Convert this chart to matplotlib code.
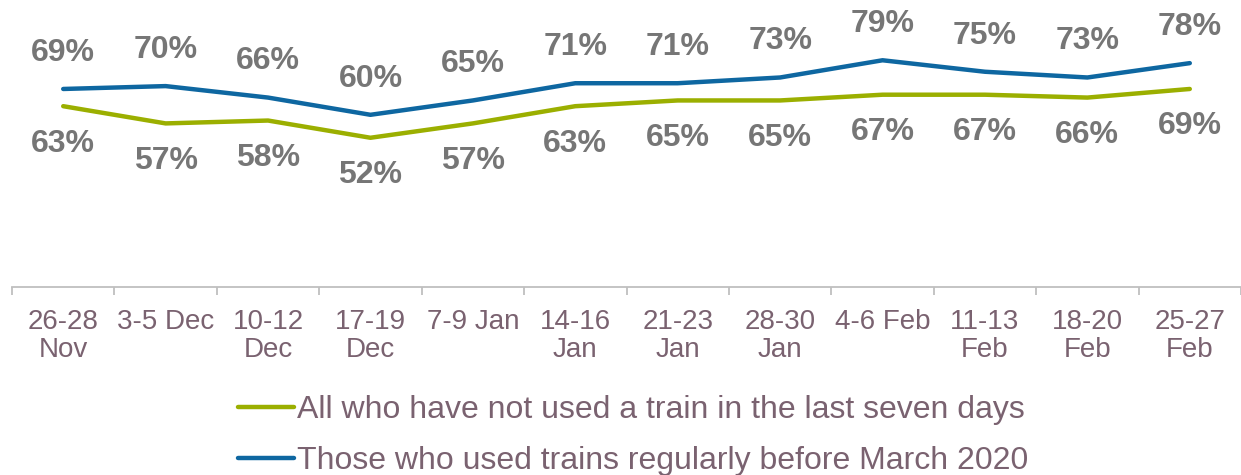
import numpy as np
import matplotlib.pyplot as plt
from matplotlib.ticker import FixedLocator

plt.rcParams['font.family'] = ['Liberation Sans', 'DejaVu Sans']

periods = ["26-28\nNov", "3-5 Dec", "10-12\nDec", "17-19\nDec", "7-9 Jan", "14-16\nJan",
           "21-23\nJan", "28-30\nJan", "4-6 Feb", "11-13\nFeb", "18-20\nFeb", "25-27\nFeb"]
not_used = [63, 57, 58, 52, 57, 63, 65, 65, 67, 67, 66, 69]
regular = [69, 70, 66, 60, 65, 71, 71, 73, 79, 75, 73, 78]

green = "#9BAF00"
blue = "#0E67A1"
label_grey = "#767676"
text_col = "#7A6270"

fig = plt.figure(figsize=(12.41, 4.75), dpi=100)
ax = fig.add_axes([12 / 1241, 1 - 287 / 475, 1 - 12 / 1241, 287 / 475])

x = np.arange(len(periods))
l1, = ax.plot(x, not_used, color=green, lw=3.2, solid_capstyle='round',
              label="All who have not used a train in the last seven days")
l2, = ax.plot(x, regular, color=blue, lw=3.2, solid_capstyle='round',
              label="Those who used trains regularly before March 2020")

for xi, v in zip(x, regular):
    ax.annotate(f"{v}%", (xi, v), xytext=(0, 26), textcoords='offset points',
                ha='center', va='center', fontsize=23, fontweight='bold', color=label_grey)
for xi, v in zip(x, not_used):
    ax.annotate(f"{v}%", (xi, v), xytext=(0, -27), textcoords='offset points',
                ha='center', va='center', fontsize=23, fontweight='bold', color=label_grey)

ax.set_xlim(-0.5, len(periods) - 0.5)
ax.set_ylim(0, 100)
ax.set_yticks([])
for s in ['top', 'right', 'left']:
    ax.spines[s].set_visible(False)
ax.spines['bottom'].set_color('#BFBFBF')
ax.spines['bottom'].set_linewidth(1.3)

ax.set_xticks(x)
ax.set_xticklabels(periods, fontsize=20, color=text_col, linespacing=1.1)
ax.tick_params(axis='x', which='major', length=0, pad=16)
ax.xaxis.set_minor_locator(FixedLocator(np.arange(-0.5, len(periods), 1)))
ax.tick_params(axis='x', which='minor', length=6, width=1.3, color='#BFBFBF')

fig.legend(handles=[l1, l2], loc='upper left', bbox_to_anchor=(0.192, 0.168),
           frameon=False, fontsize=23, handlelength=1.75, handletextpad=0.1,
           labelspacing=0.66, borderpad=0, borderaxespad=0, labelcolor=text_col)

fig.savefig("out.png", dpi=100)
